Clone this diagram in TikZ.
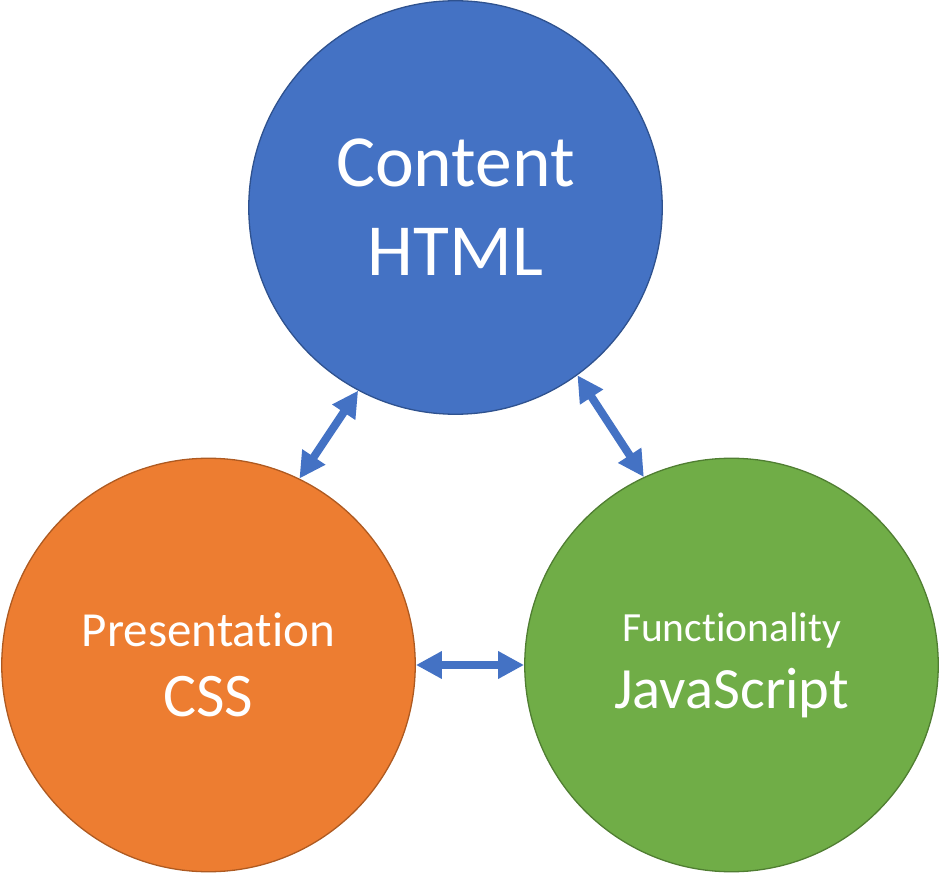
\documentclass[tikz,border=0pt]{standalone}
\usepackage{fontspec}
\setmainfont{Carlito}[Ligatures=NoCommon]
\usetikzlibrary{arrows.meta}
\definecolor{bluefill}{HTML}{4472C4}
\definecolor{blueline}{HTML}{2F528F}
\definecolor{orangefill}{HTML}{ED7D31}
\definecolor{orangeline}{HTML}{AE5A21}
\definecolor{greenfill}{HTML}{70AD47}
\definecolor{greenline}{HTML}{507E32}
\definecolor{linkblue}{HTML}{4472C4}
\begin{document}
\begin{tikzpicture}[x=1pt,y=-1pt,
  bubble/.style={circle, minimum size=413.5pt, inner sep=0pt, line width=1.3pt, text=white, align=center},
  link/.style={draw=linkblue, line width=8pt, {Triangle[width=26pt,length=26pt]}-{Triangle[width=26pt,length=26pt]}}
]
\useasboundingbox (0,0) rectangle (940,874);
\node[bubble, fill=bluefill, draw=blueline, font=\fontsize{73.5}{89}\selectfont] (html) at (455.5,207.5) {Content\\HTML};
\node[bubble, fill=orangefill, draw=orangeline, font=\fontsize{49}{70}\selectfont] (css) at (208.5,665) {Presentation\\{\fontsize{62}{70}\selectfont CSS}};
\node[bubble, fill=greenfill, draw=greenline, font=\fontsize{41.5}{67}\selectfont] (js) at (731.5,665) {Functionality\\{\fontsize{58.5}{67}\selectfont JavaScript}};
\draw[link] (html.-118.5) -- (css.64);
\draw[link] (html.-54) -- (js.115);
\draw[link] (css.0) -- (js.180);
\end{tikzpicture}
\end{document}
